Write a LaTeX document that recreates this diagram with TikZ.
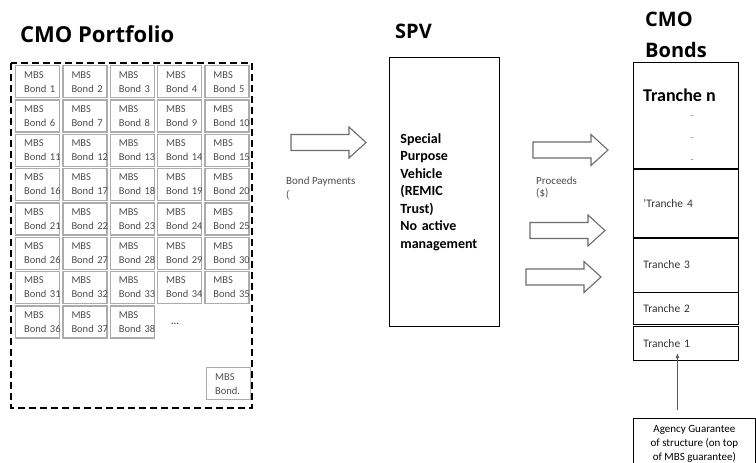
\documentclass[tikz,border=0pt]{standalone}
\usepackage{fontspec}
\setmainfont{Carlito}
\newfontfamily\headfont{Open Sans}
\usetikzlibrary{arrows.meta,positioning}

\begin{document}
\begin{tikzpicture}[x=1pt,y=-1pt,
    head/.style={anchor=base west, inner sep=0pt, font=\headfont\bfseries\fontsize{#1}{#1}\selectfont},
    head/.default=20,
    mbs/.style={draw=gray!65, line width=1.4pt, anchor=north west, minimum height=32pt,
        text width=27pt, inner xsep=8.5pt, inner ysep=0pt, align=left, text=gray!60!black,
        font=\fontsize{10.5}{14}\selectfont},
    tranche/.style={draw, line width=0.8pt, anchor=north west, text width=85pt, inner xsep=10pt,
        inner ysep=0pt, align=left, text=black!80, font=\fontsize{11.5}{12}\selectfont},
    fat/.style={draw=gray!85!black, line width=1.1pt, fill=white},
    fatarrow/.pic={\draw[fat] (0,-8) -- (58,-8) -- (58,-15.5) -- (75,0) -- (58,15.5) -- (58,8) -- (0,8) -- cycle;},
]
\useasboundingbox (0,0) rectangle (756,463);

% Titles
\node[head=22] (portt) at (20,42) {CMO Portfolio};
\node[head] (spvt) at (395,38) {SPV};
\node[head] (cmot) at (645,27) {CMO};
\node[head] (bondt) at (645,57) {Bonds};

% Portfolio of MBS bonds, five to a row
\foreach \n in {1,...,38} {
    \pgfmathtruncatemacro\row{(\n-1)/5}
    \pgfmathtruncatemacro\col{mod(\n-1,5)}
    \node[mbs] (b\n) at ({15+47.3*\col},{65+34.3*\row}) {MBS\\Bond~\n};
}
\node[text=gray!40!black, font=\fontsize{11}{11}\selectfont] (more) at (175,324) {...};
\node[mbs] (bn) at (206,367) {MBS\\Bond.};
\draw[line width=1.5pt, dash pattern=on 7pt off 4pt] (11,63) rectangle (252,408);

% Cash flows in and out of the SPV
\pic (pay) at (291,142.5) {fatarrow};
\node[anchor=north west, align=left, inner sep=0pt, text=gray!60!black,
    font=\fontsize{11}{14}\selectfont] (payt) at (286,177) {Bond Payments\\(};
\pic (pra) at (533,150) {fatarrow};
\pic (prb) at (530,230.5) {fatarrow};
\pic (prc) at (526,277) {fatarrow};
\node[anchor=north west, align=left, inner sep=0pt, text=gray!60!black,
    font=\fontsize{11}{12}\selectfont] (proc) at (536,177) {Proceeds\\(\$)};

% SPV
\node[draw, line width=0.8pt, anchor=north west, minimum height=269pt, text width=88pt,
    inner xsep=11pt, align=left, font=\bfseries\fontsize{14}{17.5}\selectfont] (spv) at (389,57)
    {Special\\Purpose\\Vehicle\\(REMIC\\Trust)\\No active\\management};

% Tranche stack
\node[tranche, minimum height=106pt] (tn) at (633,62) {};
\node[tranche, minimum height=68pt, below=0pt of tn] (t4) {'Tranche 4};
\node[tranche, minimum height=54pt, below=0pt of t4] (t3) {Tranche 3};
\node[tranche, minimum height=32pt, below=0pt of t3] (t2) {Tranche 2};
\node[tranche, minimum height=34pt, below=1pt of t2] (t1) {Tranche 1};
\node[anchor=base west, inner sep=0pt, font=\bfseries\fontsize{18}{18}\selectfont] (tnl) at (643,101) {Tranche n};
\foreach \y [count=\i] in {118,140,162}
    \node[text=gray!80, font=\fontsize{12}{12}\selectfont] (dot\i) at (692,\y) {-};

% Agency guarantee
\node[draw, line width=0.8pt, anchor=north west, minimum width=122pt, minimum height=50pt,
    align=center, font=\fontsize{11}{14}\selectfont] (ag) at (633,418)
    {Agency Guarantee\\of structure (on top\\of MBS guarantee)};
\draw[-{Latex[length=5pt,width=4pt]}, gray!70!black, line width=1pt]
    ([xshift=-17pt,yshift=8pt]ag.north) -- ([xshift=-17pt,yshift=8pt]ag.north |- t1.south);
\end{tikzpicture}
\end{document}
